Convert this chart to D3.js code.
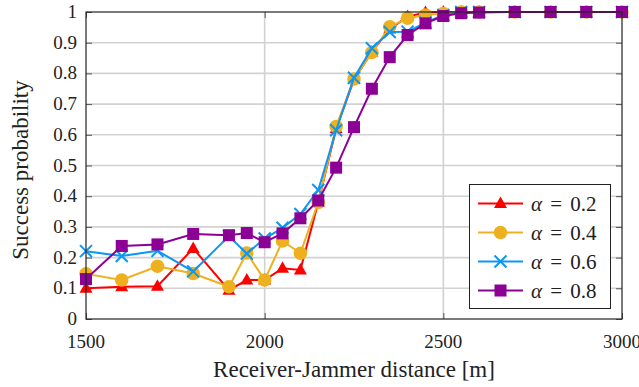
<!DOCTYPE html>
<html>
<head>
<meta charset="utf-8">
<script src="https://cdn.jsdelivr.net/npm/d3@7"></script>
<style>
  body { margin: 0; background: #fff; }
  text { font-family: "Liberation Serif", "DejaVu Serif", serif; fill: #222; }
</style>
</head>
<body>
<div id="chart"></div>
<script>
// distances [m]
const distances = [1500, 1600, 1700, 1800, 1900, 1950, 2000, 2050, 2100, 2150, 2200, 2250,
  2300, 2350, 2400, 2450, 2500, 2550, 2600, 2700, 2800, 2900, 3000];

// success probability per alpha
const alpha02 = [0.100, 0.105, 0.107, 0.230, 0.094, 0.127, 0.127, 0.165, 0.160, 0.380, 0.620, 0.780,
  0.870, 0.945, 0.985, 0.998, 1, 1, 1, 1, 1, 1, 1];
const alpha04 = [0.147, 0.127, 0.172, 0.148, 0.105, 0.215, 0.127, 0.254, 0.214, 0.380, 0.627, 0.782,
  0.868, 0.952, 0.980, 0.990, 0.995, 1, 1, 1, 1, 1, 1];
const alpha06 = [0.221, 0.205, 0.222, 0.155, 0.270, 0.213, 0.262, 0.297, 0.342, 0.420, 0.615, 0.786,
  0.882, 0.935, 0.936, 0.965, 0.990, 1, 1, 1, 1, 1, 1];
const alpha08 = [0.130, 0.238, 0.243, 0.277, 0.273, 0.280, 0.250, 0.279, 0.328, 0.386, 0.493, 0.625,
  0.750, 0.853, 0.925, 0.963, 0.987, 0.996, 0.998, 1, 1, 1, 1];

const alphaLabels = ["0.2", "0.4", "0.6", "0.8"];
const xTicks = [1500, 2000, 2500, 3000];
const yTicks = [0, 0.1, 0.2, 0.3, 0.4, 0.5, 0.6, 0.7, 0.8, 0.9, 1];

const series = [
  { label: alphaLabels[0], values: alpha02, color: "#ff0000", marker: "triangle" },
  { label: alphaLabels[1], values: alpha04, color: "#edb120", marker: "circle" },
  { label: alphaLabels[2], values: alpha06, color: "#0d96f2", marker: "cross" },
  { label: alphaLabels[3], values: alpha08, color: "#8c0096", marker: "square" }
];

const width = 639, height = 387;
const plotLeft = 86, plotRight = 622, plotTop = 12, plotBottom = 319;

const svg = d3.select("#chart")
  .append("svg")
  .attr("width", width)
  .attr("height", height);

const x = d3.scaleLinear().domain([1500, 3000]).range([plotLeft, plotRight]);
const y = d3.scaleLinear().domain([0, 1]).range([plotBottom, plotTop]);

// grid
svg.append("g")
  .selectAll("line")
  .data(yTicks.slice(1, -1))
  .join("line")
  .attr("x1", plotLeft).attr("x2", plotRight)
  .attr("y1", d => y(d)).attr("y2", d => y(d))
  .attr("stroke", "#d2d2d2").attr("stroke-width", 1.6);
svg.append("g")
  .selectAll("line")
  .data(xTicks.slice(1, -1))
  .join("line")
  .attr("y1", plotTop).attr("y2", plotBottom)
  .attr("x1", d => x(d)).attr("x2", d => x(d))
  .attr("stroke", "#d2d2d2").attr("stroke-width", 1.6);

// axes (ticks point inward, mirrored)
const tickLen = 6;
svg.append("g")
  .attr("transform", "translate(0," + plotBottom + ")")
  .call(d3.axisTop(x).tickValues(xTicks).tickSize(tickLen).tickFormat(""))
  .call(g => g.select(".domain").remove())
  .selectAll("line").attr("stroke", "#555");
svg.append("g")
  .attr("transform", "translate(0," + plotTop + ")")
  .call(d3.axisBottom(x).tickValues(xTicks).tickSize(tickLen).tickFormat(""))
  .call(g => g.select(".domain").remove())
  .selectAll("line").attr("stroke", "#555");
svg.append("g")
  .attr("transform", "translate(" + plotLeft + ",0)")
  .call(d3.axisRight(y).tickValues(yTicks).tickSize(tickLen).tickFormat(""))
  .call(g => g.select(".domain").remove())
  .selectAll("line").attr("stroke", "#555");
svg.append("g")
  .attr("transform", "translate(" + plotRight + ",0)")
  .call(d3.axisLeft(y).tickValues(yTicks).tickSize(tickLen).tickFormat(""))
  .call(g => g.select(".domain").remove())
  .selectAll("line").attr("stroke", "#555");

// tick labels
svg.append("g")
  .selectAll("text")
  .data(xTicks)
  .join("text")
  .attr("x", d => x(d)).attr("y", 348)
  .attr("text-anchor", "middle")
  .attr("font-size", 19)
  .text(d => d);
svg.append("g")
  .selectAll("text")
  .data(yTicks)
  .join("text")
  .attr("x", 77).attr("y", d => y(d) + 6)
  .attr("text-anchor", "end")
  .attr("font-size", 19)
  .text(d => d3.format("")(d));

// axis titles
svg.append("text")
  .attr("x", (plotLeft + plotRight) / 2).attr("y", 377)
  .attr("text-anchor", "middle")
  .attr("font-size", 23)
  .text("Receiver-Jammer distance [m]");
svg.append("text")
  .attr("transform", "translate(28," + 170 + ") rotate(-90)")
  .attr("text-anchor", "middle")
  .attr("font-size", 23)
  .text("Success probability");

// markers
function drawMarker(g, type, color) {
  if (type === "triangle") {
    g.append("path").attr("d", "M0,-7L6.5,4.5L-6.5,4.5Z").attr("fill", color);
  } else if (type === "circle") {
    g.append("circle").attr("r", 6.8).attr("fill", color);
  } else if (type === "cross") {
    g.append("path").attr("d", "M-6,-6L6,6M-6,6L6,-6")
      .attr("stroke", color).attr("stroke-width", 2).attr("fill", "none");
  } else if (type === "square") {
    g.append("rect").attr("x", -6).attr("y", -6).attr("width", 12).attr("height", 12).attr("fill", color);
  }
}

const line = d3.line()
  .x((d, i) => x(distances[i]))
  .y(d => y(d));

series.forEach(s => {
  const g = svg.append("g");
  g.append("path")
    .datum(s.values)
    .attr("fill", "none")
    .attr("stroke", s.color)
    .attr("stroke-width", 2)
    .attr("d", line);
  s.values.forEach((v, i) => {
    const m = g.append("g").attr("transform", "translate(" + x(distances[i]) + "," + y(v) + ")");
    drawMarker(m, s.marker, s.color);
  });
});

// frame
svg.append("rect")
  .attr("x", plotLeft).attr("y", plotTop)
  .attr("width", plotRight - plotLeft).attr("height", plotBottom - plotTop)
  .attr("fill", "none").attr("stroke", "#222").attr("stroke-width", 1.2);

// legend
const legend = svg.append("g");
legend.append("rect")
  .attr("x", 469.5).attr("y", 184.5)
  .attr("width", 141).attr("height", 124)
  .attr("fill", "#fff").attr("stroke", "#222").attr("stroke-width", 1);
series.forEach((s, i) => {
  const cy = 203.5 + i * 29;
  legend.append("line")
    .attr("x1", 478).attr("x2", 523)
    .attr("y1", cy).attr("y2", cy)
    .attr("stroke", s.color).attr("stroke-width", 2);
  drawMarker(legend.append("g").attr("transform", "translate(500.5," + cy + ")"), s.marker, s.color);
  const t = legend.append("text")
    .attr("x", 531).attr("y", cy + 7)
    .attr("font-size", 21)
    .attr("word-spacing", 3);
  t.append("tspan").attr("font-style", "italic").text("α");
  t.append("tspan").text(" = " + s.label);
});
</script>
</body>
</html>
